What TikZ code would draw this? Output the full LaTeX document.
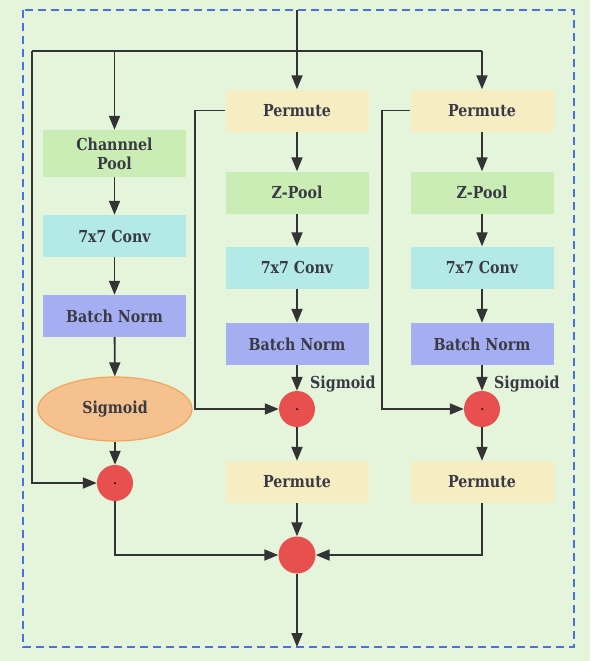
\documentclass[tikz,border=0pt]{standalone}
\usepackage{fontspec}
\setmainfont[FakeStretch=0.86]{DejaVu Serif}
\usetikzlibrary{arrows.meta,shapes.geometric}
\definecolor{bgc}{HTML}{E4F5DB}
\definecolor{poolc}{HTML}{C9EDB5}
\definecolor{convc}{HTML}{B3E9E6}
\definecolor{bnc}{HTML}{A6AEF2}
\definecolor{permc}{HTML}{F6EDC3}
\definecolor{sigc}{HTML}{F5C18E}
\definecolor{sigb}{HTML}{F2A65A}
\definecolor{mulc}{HTML}{E84F4F}
\definecolor{frame}{HTML}{4A70E2}
\definecolor{ink}{HTML}{333333}
\definecolor{txt}{HTML}{3A3A44}
\tikzset{
  tfont/.style={font=\fontsize{16.5}{19}\selectfont\bfseries, text=txt},
  blk/.style={rectangle, minimum width=143pt, minimum height=42pt, inner sep=0pt,
    align=center, tfont},
  mul/.style={circle, fill=mulc, minimum size=36pt, inner sep=0pt},
  wire/.style={draw=ink, line width=1.8pt},
  arr/.style={wire, -{Triangle[length=14pt,width=11pt]}},
  lbl/.style={tfont, inner sep=0pt}
}
\newcommand{\muldot}[1]{\fill[black] (#1) circle (1pt);}
\begin{document}
\begin{tikzpicture}[x=1pt,y=-1pt]
\useasboundingbox (0,0) rectangle (590,661);
\fill[bgc] (0,0) rectangle (590,661);
\draw[frame, line width=1.3pt, dash pattern=on 8pt off 5pt] (23,10) rectangle (574,647);

% left branch: channel pooling
\node[blk, fill=poolc, minimum height=47pt] (cp) at (114.5,153.5) {Channnel\\Pool};
\node[blk, fill=convc] (cv1) at (114.5,236) {7x7 Conv};
\node[blk, fill=bnc] (bn1) at (114.5,316) {Batch Norm};
\node[ellipse, fill=sigc, draw=sigb, line width=1.2pt, minimum width=154pt, minimum height=64pt,
  tfont] (sg1) at (115,409) {Sigmoid};
\node[mul] (m1) at (115,483) {};

% middle branch
\node[blk, fill=permc] (pa2) at (297,110.5) {Permute};
\node[blk, fill=poolc] (zp2) at (297,192.5) {Z-Pool};
\node[blk, fill=convc] (cv2) at (297,267.5) {7x7 Conv};
\node[blk, fill=bnc] (bn2) at (297,344) {Batch Norm};
\node[mul] (m2) at (297,409) {};
\node[blk, fill=permc] (pb2) at (297,482) {Permute};

% right branch
\node[blk, fill=permc] (pa3) at (482,110.5) {Permute};
\node[blk, fill=poolc] (zp3) at (482,192.5) {Z-Pool};
\node[blk, fill=convc] (cv3) at (482,267.5) {7x7 Conv};
\node[blk, fill=bnc] (bn3) at (482,344) {Batch Norm};
\node[mul] (m3) at (482,409) {};
\node[blk, fill=permc] (pb3) at (482,482) {Permute};

% fusion
\node[mul, minimum size=37pt] (fin) at (297,555) {};

\node[lbl, anchor=west] (s2) at (310,384) {Sigmoid};
\node[lbl, anchor=west] (s3) at (494,384) {Sigmoid};

\muldot{m1}\muldot{m2}\muldot{m3}

\coordinate (in) at (297,10);
\coordinate (out) at (297,647);
\coordinate (tl) at (32,51);
\coordinate (tr) at (482,51);

% input distribution
\draw[arr] (in) -- (pa2.north);
\draw[wire] (tl) -- (tr);
\draw[arr] (tr) -- (pa3.north);
\draw[arr] (cp.north |- tl) -- (cp.north);
\draw[arr] (tl) |- (m1.west);

% chains
\draw[arr] (cp) -- (cv1);
\draw[arr] (cv1) -- (bn1);
\draw[arr] (bn1) -- (sg1);
\draw[arr] (sg1) -- (m1);

\draw[arr] (pa2) -- (zp2);
\draw[arr] (zp2) -- (cv2);
\draw[arr] (cv2) -- (bn2);
\draw[arr] (bn2) -- (m2);
\draw[arr] (m2) -- (pb2);
\draw[arr] (pa2.west) -- ++(-30,0) |- (m2.west);

\draw[arr] (pa3) -- (zp3);
\draw[arr] (zp3) -- (cv3);
\draw[arr] (cv3) -- (bn3);
\draw[arr] (bn3) -- (m3);
\draw[arr] (m3) -- (pb3);
\draw[arr] (pa3.west) -- ++(-28,0) |- (m3.west);

% aggregation
\draw[arr] (m1.south) |- (fin.west);
\draw[arr] (pb3.south) |- (fin.east);
\draw[arr] (pb2) -- (fin);
\draw[arr] (fin) -- (out);
\end{tikzpicture}
\end{document}
